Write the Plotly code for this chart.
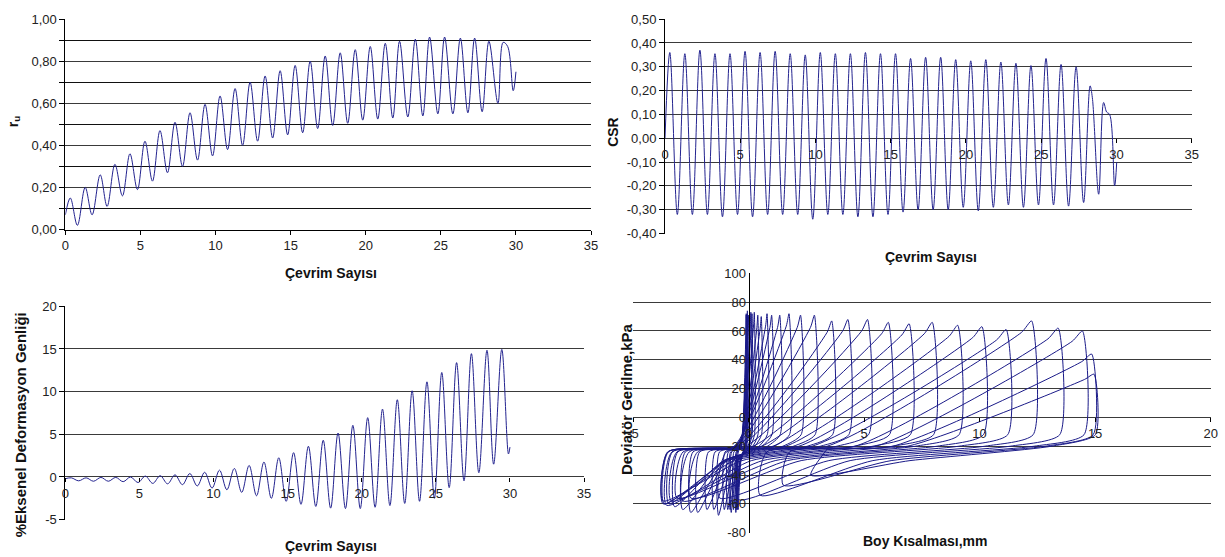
import plotly.graph_objects as go

# ---------------- data (turning points) ----------------
# Panel 1: pore pressure ratio r_u vs cycle number
ru_t = [0.00, 0.33, 0.80, 1.32, 1.78, 2.32, 2.78, 3.30, 3.80, 4.30, 4.80, 5.30, 5.80,
        6.30, 6.80, 7.30, 7.80, 8.30, 8.80, 9.30, 9.80, 10.30, 10.80, 11.30, 11.80,
        12.30, 12.80, 13.30, 13.80, 14.30, 14.80, 15.30, 15.80, 16.30, 16.80, 17.30,
        17.80, 18.30, 18.80, 19.30, 19.80, 20.30, 20.80, 21.30, 21.80, 22.25, 22.80,
        23.30, 23.80, 24.25, 24.80, 25.25, 25.80, 26.30, 26.80, 27.25, 27.75, 28.20,
        28.80, 29.15, 29.45, 29.82, 30.00]
ru_v = [0.07, 0.15, 0.02, 0.20, 0.07, 0.26, 0.11, 0.31, 0.16, 0.36, 0.19, 0.42, 0.23,
        0.47, 0.27, 0.51, 0.30, 0.555, 0.33, 0.595, 0.35, 0.635, 0.38, 0.67, 0.40,
        0.70, 0.42, 0.73, 0.435, 0.755, 0.45, 0.78, 0.46, 0.80, 0.48, 0.825,
        0.495, 0.84, 0.505, 0.855, 0.52, 0.87, 0.525, 0.885, 0.53, 0.895, 0.535,
        0.905, 0.54, 0.915, 0.55, 0.915, 0.55, 0.91, 0.555, 0.91, 0.56, 0.895,
        0.60, 0.89, 0.87, 0.66, 0.75]

# Panel 2: cyclic stress ratio CSR vs cycle number
csr_t = [0.00, 0.32, 0.82, 1.32, 1.82, 2.32, 2.82, 3.32, 3.82, 4.32, 4.82, 5.32, 5.82,
         6.32, 6.82, 7.32, 7.82, 8.32, 8.82, 9.32, 9.82, 10.32, 10.82, 11.32, 11.82,
         12.32, 12.82, 13.32, 13.82, 14.32, 14.82, 15.32, 15.82, 16.32, 16.82, 17.32,
         17.82, 18.32, 18.82, 19.32, 19.82, 20.32, 20.82, 21.32, 21.82, 22.32, 22.82,
         23.32, 23.82, 24.32, 24.82, 25.32, 25.82, 26.32, 26.82, 27.32, 27.82,
         28.25, 28.40, 28.82, 29.15, 29.35, 29.55, 29.88, 30.02]
csr_v = [0.00, 0.36, -0.32, 0.355, -0.32, 0.37, -0.32, 0.355, -0.33, 0.355, -0.32,
         0.365, -0.33, 0.36, -0.32, 0.365, -0.32, 0.355, -0.32, 0.35, -0.34, 0.36,
         -0.32, 0.355, -0.32, 0.355, -0.33, 0.36, -0.33, 0.355, -0.32, 0.355, -0.31,
         0.335, -0.30, 0.34, -0.30, 0.34, -0.30, 0.33, -0.29, 0.325, -0.305, 0.33,
         -0.29, 0.32, -0.28, 0.315, -0.29, 0.305, -0.28, 0.335, -0.28, 0.31, -0.285,
         0.30, -0.27, 0.22, 0.17, -0.235, 0.15, 0.11, 0.10, -0.20, -0.10]

# Panel 3: axial strain amplitude (%) vs cycle number
strain_t = [0.00, 0.40, 0.90, 1.40, 1.90, 2.40, 2.90, 3.40, 3.90, 4.40, 4.90, 5.40, 5.90,
            6.40, 6.90, 7.40, 7.90, 8.40, 8.90, 9.40, 9.90, 10.40, 10.90, 11.40, 11.90,
            12.40, 12.90, 13.40, 13.90, 14.40, 14.90, 15.40, 15.90, 16.40, 16.90, 17.40,
            17.90, 18.40, 18.90, 19.40, 19.90, 20.40, 20.90, 21.40, 21.90, 22.40, 22.90,
            23.40, 23.90, 24.40, 24.90, 25.40, 25.90, 26.40, 26.90, 27.40, 27.90, 28.45,
            28.90, 29.45, 29.90, 30.00]
strain_v = [-0.2, -0.1, -0.45, -0.1, -0.5, -0.05, -0.5, -0.05, -0.55, 0.0, -0.65, 0.1,
            -0.75, 0.15, -0.8, 0.25, -0.9, 0.4, -1.05, 0.55, -1.3, 0.8, -1.5, 1.0, -1.8,
            1.35, -2.2, 1.75, -2.5, 2.25, -2.85, 2.85, -3.2, 3.6, -3.45, 4.3, -3.65,
            5.15, -3.7, 6.05, -3.7, 6.95, -3.55, 7.95, -3.35, 9.05, -3.1, 10.1, -2.85,
            11.15, -2.5, 12.25, -1.25, 13.4, -0.45, 14.45, 0.5, 14.85, 1.5, 14.95, 2.7,
            3.5]

# Panel 4: deviator stress (kPa) extremes per cycle
q_peak = [72, 71, 74, 71, 71, 73, 72, 73, 71, 70, 72, 71, 71, 72, 71, 71, 67, 68, 68,
          66, 65, 66, 64, 63, 61, 67, 62, 60, 44, 30]
q_trough = [-64, -64, -64, -66, -64, -66, -64, -64, -64, -68, -64, -64, -66, -66, -64,
            -62, -60, -60, -60, -58, -61, -58, -56, -58, -56, -56, -57, -54, -47, -40]
q_end = -20
# loop shape (kPa): rise end, shelf, drop end, unload branch, unload knee
q_rise_end = -24
q_shelf = -20
q_drop_end = -12
q_unload_mid = -20
q_unload_knee = -30
# positions along each branch (fraction of the strain excursion)
rise_frac = 0.02
shelf_frac = 0.40
top_frac = 0.03
top_q_frac = 0.88
drop_frac = 0.005
unload_mid_frac = 0.15
unload_knee_frac = 0.35

# tick labels
cyc_ticks = [0, 5, 10, 15, 20, 25, 30, 35]
ru_tick_vals = [0.0, 0.2, 0.4, 0.6, 0.8, 1.0]
ru_tick_text = ["0,00", "0,20", "0,40", "0,60", "0,80", "1,00"]
ru_minor_vals = [0.1, 0.3, 0.5, 0.7, 0.9]
csr_tick_vals = [-0.4, -0.3, -0.2, -0.1, 0.0, 0.1, 0.2, 0.3, 0.4, 0.5]
csr_tick_text = ["-0,40", "-0,30", "-0,20", "-0,10", "0,00", "0,10", "0,20", "0,30",
                 "0,40", "0,50"]
strain_tick_vals = [-5, 0, 5, 10, 15, 20]
strain_tick_text = ["-5", "0", "5", "10", "15", "20"]
dev_tick_vals = [-80, -60, -40, -20, 0, 20, 40, 60, 80, 100]
dev_tick_text = ["-80", "-60", "-40", "-20", "0", "20", "40", "60", "80", "100"]
boy_tick_vals = [-5, 0, 5, 10, 15, 20]
boy_tick_text = ["-5", "0", "5", "10", "15", "20"]

# ---------------- build hysteresis path from the per-cycle extremes ----------------
s_peaks = strain_v[1:61:2]
s_troughs = strain_v[2:61:2]
lx = [strain_v[0]]
ly = [0.0]
xa, qa = strain_v[0], 0.0
for k in range(len(s_peaks)):
    xp, Qp, xb, Qb = s_peaks[k], q_peak[k], s_troughs[k], q_trough[k]
    R = xp - xa
    # loading: steep rise, low-stiffness shelf, stiffening diagonal, peak
    lx += [xa + rise_frac * R, xa + shelf_frac * R, xp - top_frac * R, xp]
    ly += [q_rise_end, q_shelf, top_q_frac * Qp, Qp]
    # unloading: stiff drop, leftward branch, knee, trough
    R2 = xp - xb
    lx += [xp + drop_frac * R2, xp - unload_mid_frac * R2, xb + unload_knee_frac * R2, xb]
    ly += [q_drop_end, q_unload_mid, q_unload_knee, Qb]
    xa, qa = xb, Qb
lx.append(strain_v[-1]); ly.append(q_end)

# ---------------- figure ----------------
W, H = 1225, 557
# the page is shown slightly scaled/offset; map target screen pixels to figure pixels
SX, OX = 0.990, 4.6
SY, OY = 0.976, 4.8
LINE = "#23238f"
GRID = "#3a3a3a"
FONT = "Liberation Sans, Arial, sans-serif"
tickfont = dict(family=FONT, size=13, color="#222222")

def fx(p):
    return (p - OX) / SX / W

def fy(p):
    return 1 - (p - OY) / SY / H

def dom_x(a, b):
    return [fx(a), fx(b)]

def dom_y(top, bottom):
    return [fy(bottom), fy(top)]

fig = go.Figure()
fig.add_trace(go.Scatter(x=ru_t, y=ru_v, xaxis="x", yaxis="y", mode="lines",
                         line=dict(color=LINE, width=1, shape="spline", smoothing=1)))
fig.add_trace(go.Scatter(x=csr_t, y=csr_v, xaxis="x2", yaxis="y2", mode="lines",
                         line=dict(color=LINE, width=1, shape="spline", smoothing=1)))
fig.add_trace(go.Scatter(x=strain_t, y=strain_v, xaxis="x3", yaxis="y3", mode="lines",
                         line=dict(color=LINE, width=1, shape="spline", smoothing=1)))
fig.add_trace(go.Scatter(x=lx, y=ly, xaxis="x4", yaxis="y4", mode="lines",
                         line=dict(color="#1a1a88", width=1, shape="spline", smoothing=0.6)))

base_x = dict(showgrid=False, zeroline=False, showline=True, linecolor="black", linewidth=1,
              ticks="outside", ticklen=4, tickcolor="black", tickfont=tickfont)
base_y = dict(showgrid=True, gridcolor=GRID, gridwidth=1, zeroline=False, showline=True,
              linecolor="black", linewidth=1, ticks="outside", ticklen=5, tickcolor="black",
              tickfont=tickfont)

y1d = dom_y(17, 228)
y2d = dom_y(17, 232)
y3d = dom_y(305, 519)
y4d = dom_y(272, 532)
x4d = dom_x(632, 1210)

fig.update_layout(
    width=W, height=H, margin=dict(l=0, r=0, t=0, b=0),
    paper_bgcolor="white", plot_bgcolor="white", showlegend=False,
    xaxis=dict(base_x, domain=dom_x(64, 590), range=[0, 35], anchor="y",
               tickvals=cyc_ticks),
    yaxis=dict(base_y, domain=y1d, range=[0, 1], anchor="x",
               tickvals=ru_tick_vals, ticktext=ru_tick_text,
               minor=dict(tickmode="array", tickvals=ru_minor_vals, showgrid=True,
                          gridcolor="#111111", gridwidth=1, ticks="outside", ticklen=5,
                          tickcolor="black")),
    xaxis2=dict(base_x, domain=dom_x(664, 1191), range=[0, 35], anchor="free",
                showline=False,
                position=y2d[0] + (0.4 / 0.9) * (y2d[1] - y2d[0]), tickvals=cyc_ticks),
    yaxis2=dict(base_y, domain=y2d, range=[-0.4, 0.5], anchor="x2",
                tickvals=csr_tick_vals, ticktext=csr_tick_text),
    xaxis3=dict(base_x, domain=dom_x(64, 583), range=[0, 35], anchor="free",
                showline=False,
                position=y3d[0] + 0.2 * (y3d[1] - y3d[0]), tickvals=cyc_ticks),
    yaxis3=dict(base_y, domain=y3d, range=[-5, 20], anchor="x3",
                tickvals=strain_tick_vals, ticktext=strain_tick_text),
    xaxis4=dict(base_x, domain=x4d, range=[-5, 20], anchor="free", showline=False,
                position=y4d[0] + (80 / 180) * (y4d[1] - y4d[0]),
                tickvals=boy_tick_vals, ticktext=boy_tick_text),
    yaxis4=dict(base_y, domain=y4d, range=[-80, 100], anchor="free",
                position=x4d[0] + 0.2 * (x4d[1] - x4d[0]), ticks="",
                tickvals=dev_tick_vals, ticktext=dev_tick_text),
)

titles = [
    ("<b>r<sub>u</sub></b>", 12, 120, -90, 14),
    ("<b>CSR</b>", 612, 130, -90, 14),
    ("<b>%Eksenel Deformasyon Genliği</b>", 20, 424, -90, 15),
    ("<b>Deviatör Gerilme,kPa</b>", 625, 398, -90, 15),
    ("<b>Çevrim Sayısı</b>", 330, 272, 0, 14),
    ("<b>Çevrim Sayısı</b>", 930, 256, 0, 14),
    ("<b>Çevrim Sayısı</b>", 330, 545, 0, 14),
    ("<b>Boy Kısalması,mm</b>", 925, 540, 0, 14),
]
for text, px, py, ang, fs in titles:
    fig.add_annotation(text=text, x=fx(px), y=fy(py), xref="paper", yref="paper",
                       showarrow=False, textangle=ang, xanchor="center", yanchor="middle",
                       font=dict(family=FONT, size=fs, color="#111111"))

fig.write_html("out.html", config={"displayModeBar": False},
               post_script="document.body.style.margin='0';document.body.style.padding='0';"
                           "document.body.style.overflow='hidden';")
